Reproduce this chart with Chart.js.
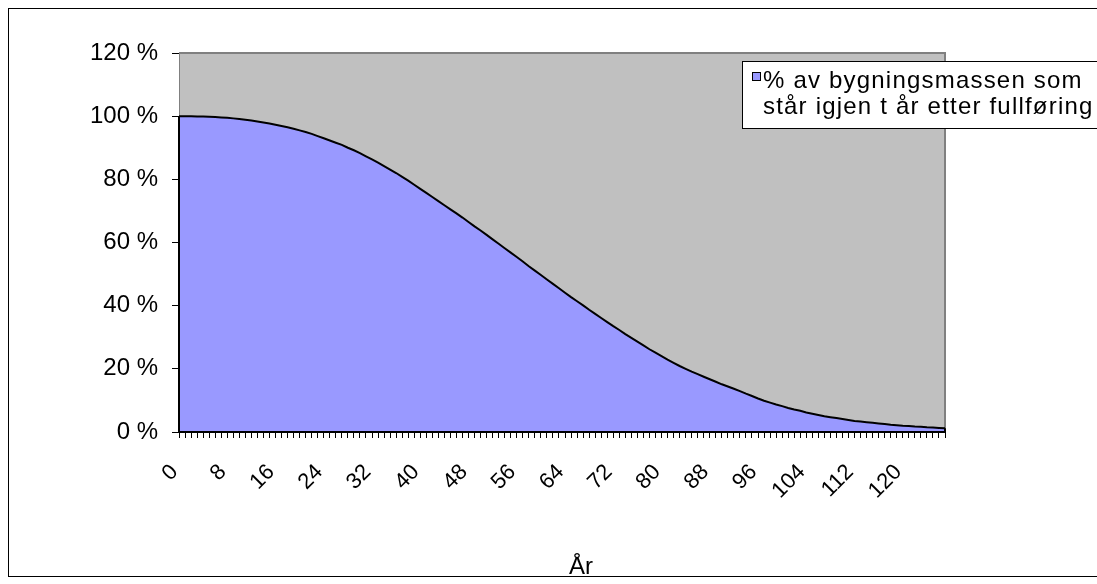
<!DOCTYPE html>
<html>
<head>
<meta charset="utf-8">
<script src="https://cdn.jsdelivr.net/npm/chart.js@4.4.1/dist/chart.umd.min.js"></script>
<style>
  html, body { margin: 0; padding: 0; background: #ffffff; }
  #wrap { position: relative; width: 1097px; height: 584px; }
</style>
</head>
<body>
<div id="wrap"><canvas id="c"></canvas></div>
<script>
// ---- data ----
const years = [];
for (let i = 0; i <= 127; i++) years.push(String(i));
const remaining = [
  100.0, 100.0, 100.0, 99.9, 99.9, 99.8, 99.7, 99.6, 99.5, 99.3,
  99.1, 98.9, 98.6, 98.3, 98.0, 97.7, 97.3, 96.9, 96.5, 96.0,
  95.5, 95.0, 94.4, 93.7, 93.0, 92.3, 91.6, 90.9, 90.0, 89.2,
  88.3, 87.3, 86.3, 85.3, 84.2, 83.1, 82.0, 80.8, 79.6, 78.3,
  77.0, 75.7, 74.4, 73.1, 71.8, 70.5, 69.2, 67.9, 66.5, 65.1,
  63.8, 62.4, 61.0, 59.6, 58.2, 56.8, 55.4, 54.0, 52.5, 51.1,
  49.7, 48.3, 46.9, 45.5, 44.1, 42.7, 41.4, 40.1, 38.7, 37.4,
  36.1, 34.8, 33.5, 32.3, 31.0, 29.8, 28.6, 27.4, 26.2, 25.1,
  24.0, 22.9, 21.9, 20.9, 20.0, 19.1, 18.3, 17.5, 16.7, 15.9,
  15.1, 14.4, 13.7, 12.95, 12.15, 11.4, 10.6, 9.9, 9.3, 8.7,
  8.2, 7.6, 7.1, 6.7, 6.2, 5.8, 5.4, 5.0, 4.7, 4.4,
  4.1, 3.8, 3.5, 3.3, 3.1, 2.9, 2.7, 2.5, 2.3, 2.15,
  2.0, 1.9, 1.75, 1.65, 1.5, 1.4, 1.3, 1.2
];
const seriesLabel = ['% av bygningsmassen som', 'står igjen t år etter fullføring'];
const xTitle = 'År';
const labelEvery = 8;
const yMin = 0, yMax = 120, yStep = 20;

const FONT = "'Liberation Sans', Arial, sans-serif";

const decor = {
  id: 'decor',
  beforeDraw(chart) {
    const { ctx, chartArea: a } = chart;
    ctx.save();
    ctx.fillStyle = '#C0C0C0';
    ctx.fillRect(a.left, a.top, a.right - a.left, a.bottom - a.top);
    ctx.strokeStyle = '#808080';
    ctx.lineWidth = 2;
    ctx.beginPath();
    ctx.moveTo(a.left, a.top);
    ctx.lineTo(a.right, a.top);
    ctx.lineTo(a.right, a.bottom);
    ctx.stroke();
    // outer frame
    ctx.strokeStyle = '#000000';
    ctx.lineWidth = 1;
    ctx.strokeRect(8.5, 8.5, 1200, 568);
    ctx.restore();
  },
  afterDatasetsDraw(chart) {
    // close the outline of the area at both ends (Excel style)
    const { ctx } = chart;
    const xs = chart.scales.x, ys = chart.scales.y;
    const data = chart.data.datasets[0].data;
    const n = data.length - 1;
    ctx.save();
    ctx.strokeStyle = '#000000';
    ctx.lineWidth = 2;
    ctx.beginPath();
    ctx.moveTo(xs.getPixelForValue(0), ys.getPixelForValue(data[0]));
    ctx.lineTo(xs.getPixelForValue(0), ys.getPixelForValue(0));
    ctx.lineTo(xs.getPixelForValue(n), ys.getPixelForValue(0));
    ctx.lineTo(xs.getPixelForValue(n), ys.getPixelForValue(data[n]));
    ctx.stroke();
    ctx.restore();
  },
  afterDraw(chart) {
    const { ctx } = chart;
    const ds = chart.data.datasets[0];
    ctx.save();
    // legend box
    ctx.fillStyle = '#ffffff';
    ctx.fillRect(742, 61, 400, 67);
    ctx.strokeStyle = '#000000';
    ctx.lineWidth = 1;
    ctx.strokeRect(742.5, 61.5, 400, 67);
    ctx.fillStyle = ds.backgroundColor;
    ctx.fillRect(752, 72, 9, 9);
    ctx.strokeRect(752.5, 72.5, 8, 8);
    ctx.fillStyle = '#000000';
    ctx.font = '24px ' + FONT;
    ctx.textBaseline = 'alphabetic';
    ctx.textAlign = 'left';
    ctx.letterSpacing = '1.2px';
    const lbl = ds.label;
    ctx.fillText(lbl[0], 763, 88);
    ctx.fillText(lbl[1], 763, 114);
    ctx.letterSpacing = '0px';
    // x axis title
    ctx.textAlign = 'center';
    ctx.fillText(xTitle, 581, 574);
    ctx.restore();
  }
};

new Chart(document.getElementById('c'), {
  type: 'line',
  data: {
    labels: years,
    datasets: [{
      label: seriesLabel,
      data: remaining,
      fill: 'origin',
      backgroundColor: '#9999FF',
      borderColor: '#000000',
      borderWidth: 2,
      pointRadius: 0,
      tension: 0
    }]
  },
  options: {
    responsive: true,
    maintainAspectRatio: false,
    animation: false,
    layout: { padding: { left: 0, right: 152, top: 53, bottom: 0 } },
    plugins: { legend: { display: false }, tooltip: { enabled: false } },
    scales: {
      x: {
        type: 'category',
        offset: false,
        grid: { display: true, drawOnChartArea: false, drawTicks: true, tickLength: 6, color: '#000000', lineWidth: 1 },
        border: { display: true, color: '#000000', width: 2 },
        ticks: {
          autoSkip: false,
          maxRotation: 45, minRotation: 45,
          padding: 17,
          color: '#000000',
          font: { family: FONT, size: 22 },
          callback: function (v, i) { return (i % labelEvery === 0) ? this.getLabelForValue(v) + ' ' : ''; }
        },
        afterFit(s) { s.height = 152; }
      },
      y: {
        min: yMin, max: yMax,
        grid: { display: true, drawOnChartArea: false, drawTicks: true, tickLength: 7, color: '#000000', lineWidth: 1 },
        border: { display: true, color: '#808080', width: 1 },
        ticks: {
          stepSize: yStep,
          padding: 14,
          color: '#000000',
          font: { family: FONT, size: 24 },
          callback: (v) => v + ' %'
        },
        afterFit(s) { s.width = 179; }
      }
    }
  },
  plugins: [decor]
});
</script>
</body>
</html>
